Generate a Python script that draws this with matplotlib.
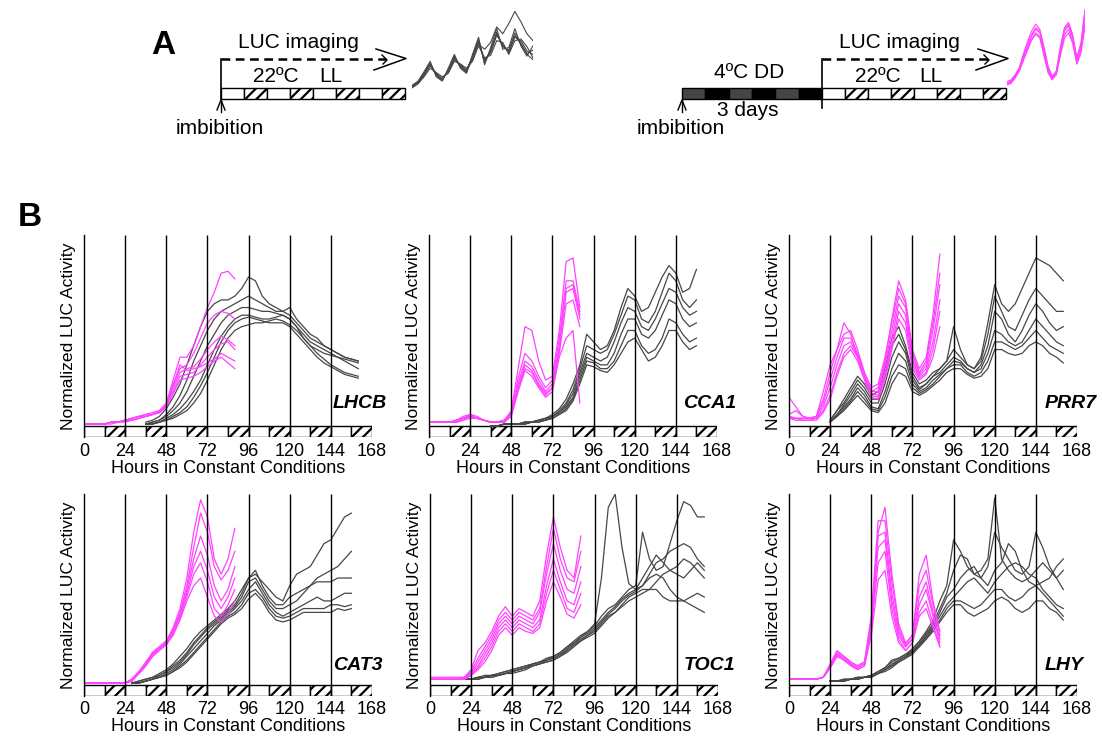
import matplotlib
matplotlib.use('Agg')
import matplotlib.pyplot as plt
from matplotlib.patches import Rectangle
from matplotlib.lines import Line2D

plt.rcParams['font.family'] = ['Liberation Sans', 'DejaVu Sans']
plt.rcParams['hatch.linewidth'] = 1.6

GRAY = '#474747'
MAGENTA = '#ff42ff'

day_ticks = [0, 24, 48, 72, 96, 120, 144, 168]
mag_hours = list(range(0, 89, 4))

# ---- panel B data (percent of axis height) ----
lhcb_gray_hours = list(range(36, 161, 4))
lhcb_gray = [
    [2, 3, 5, 9, 15, 22, 32, 42, 52, 60, 64, 66, 66, 68, 72, 78, 76, 68, 64, 62, 60, 58, 54, 50, 46, 44, 42, 40, 38, 36, 35, 34],
    [1, 2, 3, 6, 10, 16, 24, 34, 42, 50, 56, 60, 62, 64, 66, 68, 66, 64, 62, 60, 60, 62, 56, 52, 48, 46, 42, 40, 38, 36, 35, 34],
    [1, 2, 3, 5, 8, 12, 18, 26, 34, 42, 48, 54, 58, 60, 62, 62, 61, 60, 60, 59, 58, 56, 52, 48, 44, 42, 40, 38, 36, 34, 32, 30],
    [1, 1, 2, 4, 6, 9, 13, 18, 24, 32, 40, 47, 52, 56, 58, 58, 57, 56, 56, 57, 58, 56, 52, 46, 42, 38, 35, 32, 30, 28, 27, 26],
    [1, 1, 2, 3, 5, 7, 10, 15, 21, 28, 36, 44, 50, 54, 56, 57, 56, 55, 54, 54, 54, 52, 48, 44, 40, 36, 33, 31, 29, 27, 26, 25],
    [1, 1, 2, 3, 4, 6, 8, 12, 17, 24, 32, 40, 46, 50, 52, 53, 54, 54, 55, 56, 55, 53, 50, 46, 42, 40, 38, 37, 36, 35, 34, 33],
]
lhcb_mag = [
    [1, 1, 1, 1, 2, 2, 3, 4, 5, 6, 7, 8, 12, 24, 36, 36, 42, 52, 62, 70, 80, 81, 77],
    [1, 1, 1, 1, 2, 2, 3, 4, 5, 6, 6, 8, 11, 22, 30, 32, 38, 46, 54, 58, 60, 59, 56],
    [1, 1, 1, 1, 2, 2, 3, 4, 5, 5, 6, 7, 10, 20, 28, 30, 31, 35, 40, 44, 47, 45, 42],
    [1, 1, 1, 1, 2, 2, 3, 3, 4, 5, 6, 7, 10, 18, 26, 27, 28, 32, 36, 40, 43, 44, 40],
    [1, 1, 1, 1, 2, 2, 3, 3, 4, 5, 6, 7, 11, 21, 32, 29, 30, 31, 33, 35, 38, 36, 34],
    [1, 1, 1, 1, 1, 2, 2, 3, 4, 5, 6, 7, 10, 17, 24, 25, 26, 28, 31, 34, 36, 33, 30],
]

cca1_gray_hours = list(range(36, 157, 4))
cca1_gray = [
    [0, 0, 1, 1, 1, 2, 2, 3, 4, 6, 9, 14, 22, 32, 48, 44, 40, 42, 50, 62, 72, 68, 60, 62, 70, 78, 84, 80, 70, 72, 82],
    [0, 0, 1, 1, 1, 2, 2, 3, 4, 5, 8, 12, 19, 30, 42, 40, 38, 40, 48, 58, 68, 66, 56, 54, 60, 70, 80, 76, 66, 62, 66],
    [0, 0, 1, 1, 1, 2, 2, 3, 4, 5, 7, 11, 17, 28, 38, 36, 34, 36, 44, 54, 62, 60, 52, 50, 56, 64, 72, 70, 62, 58, 60],
    [0, 0, 1, 1, 1, 1, 2, 3, 3, 5, 7, 10, 15, 26, 36, 34, 32, 32, 38, 48, 56, 56, 48, 46, 50, 58, 66, 64, 56, 52, 54],
    [0, 0, 1, 1, 1, 1, 2, 2, 3, 4, 6, 9, 14, 24, 34, 33, 30, 30, 34, 42, 50, 50, 42, 38, 40, 46, 56, 54, 48, 44, 46],
    [0, 0, 1, 1, 1, 1, 2, 2, 3, 4, 6, 8, 13, 22, 32, 31, 29, 28, 32, 38, 44, 46, 40, 34, 36, 42, 50, 50, 44, 40, 42],
]
cca1_mag = [
    [2, 2, 2, 2, 3, 5, 6, 4, 3, 2, 2, 3, 8, 30, 52, 50, 34, 24, 26, 50, 86, 88, 62],
    [2, 2, 2, 2, 3, 4, 5, 4, 3, 2, 2, 3, 7, 25, 38, 34, 26, 20, 24, 46, 76, 76, 60],
    [2, 2, 2, 2, 3, 4, 5, 4, 3, 2, 2, 3, 6, 22, 34, 31, 24, 18, 22, 42, 72, 74, 58],
    [2, 2, 2, 2, 2, 4, 6, 5, 3, 2, 2, 3, 6, 20, 32, 29, 22, 17, 20, 40, 70, 72, 56],
    [2, 2, 2, 2, 2, 3, 5, 4, 3, 2, 2, 2, 6, 20, 30, 28, 21, 16, 20, 38, 64, 66, 52],
    [2, 2, 2, 2, 2, 3, 4, 4, 3, 2, 2, 2, 5, 18, 29, 26, 20, 15, 18, 36, 46, 50, 12],
]

prr7_gray_hours = list(range(24, 161, 4))
prr7_gray = [
    [3, 8, 14, 20, 26, 22, 16, 18, 30, 46, 52, 42, 28, 22, 24, 28, 30, 34, 52, 40, 32, 30, 36, 54, 74, 64, 60, 64, 72, 80, 88, 86, 84, 80, 76],
    [3, 8, 12, 18, 24, 20, 14, 14, 26, 42, 48, 40, 26, 20, 22, 26, 30, 34, 40, 36, 32, 30, 34, 48, 68, 60, 52, 50, 58, 66, 72, 68, 64, 60, 60],
    [2, 6, 11, 16, 22, 18, 12, 12, 22, 36, 44, 38, 24, 19, 22, 26, 28, 32, 36, 34, 30, 28, 32, 42, 60, 56, 48, 44, 50, 58, 64, 60, 54, 50, 52],
    [2, 6, 10, 14, 20, 16, 10, 9, 18, 30, 38, 34, 22, 18, 20, 24, 27, 30, 34, 33, 30, 28, 30, 38, 50, 48, 44, 42, 44, 50, 56, 52, 48, 44, 42],
    [2, 5, 9, 13, 18, 14, 9, 8, 15, 26, 32, 30, 20, 17, 19, 22, 26, 30, 32, 32, 28, 26, 28, 34, 44, 44, 42, 40, 42, 46, 50, 46, 42, 40, 38],
    [2, 5, 8, 12, 16, 12, 8, 7, 12, 22, 28, 26, 18, 16, 18, 21, 24, 28, 30, 30, 27, 25, 26, 30, 40, 40, 38, 37, 38, 42, 44, 42, 38, 36, 33],
]
prr7_mag = [
    [6, 8, 5, 4, 5, 14, 28, 40, 54, 48, 36, 26, 18, 20, 34, 56, 76, 66, 40, 30, 36, 58, 90],
    [5, 4, 4, 4, 5, 18, 32, 40, 48, 50, 40, 28, 20, 22, 36, 54, 72, 64, 38, 28, 34, 54, 80],
    [5, 4, 4, 4, 5, 12, 24, 36, 46, 46, 38, 28, 18, 18, 32, 50, 68, 62, 36, 27, 32, 50, 74],
    [15, 10, 5, 4, 4, 10, 20, 32, 42, 44, 37, 26, 17, 16, 28, 46, 64, 58, 34, 26, 30, 44, 66],
    [4, 4, 3, 3, 4, 8, 16, 28, 38, 42, 36, 25, 16, 15, 26, 42, 60, 54, 32, 25, 28, 40, 60],
    [4, 3, 3, 3, 3, 7, 14, 26, 36, 40, 34, 24, 15, 14, 24, 40, 56, 50, 30, 24, 27, 36, 52],
]

cat3_gray_hours = list(range(28, 157, 4))
cat3_gray = [
    [1, 2, 3, 4, 6, 8, 11, 15, 19, 24, 28, 31, 34, 37, 40, 44, 50, 56, 58, 54, 50, 46, 44, 52, 58, 60, 62, 68, 74, 76, 82, 88, 90],
    [1, 2, 3, 4, 5, 7, 10, 13, 17, 22, 26, 30, 33, 36, 39, 42, 48, 56, 60, 52, 46, 42, 42, 46, 48, 50, 52, 56, 58, 60, 62, 66, 70],
    [1, 1, 2, 3, 5, 7, 9, 12, 16, 21, 25, 29, 32, 35, 38, 41, 46, 54, 56, 50, 44, 40, 40, 42, 44, 48, 52, 54, 54, 54, 56, 56, 56],
    [1, 1, 2, 3, 4, 6, 8, 11, 15, 19, 23, 27, 31, 34, 37, 40, 44, 50, 54, 48, 42, 38, 36, 38, 40, 42, 44, 46, 44, 44, 46, 48, 48],
    [1, 1, 2, 3, 4, 5, 7, 10, 13, 17, 21, 25, 29, 33, 36, 38, 42, 48, 50, 46, 40, 36, 35, 36, 38, 40, 40, 40, 40, 42, 42, 41, 42],
    [1, 1, 2, 3, 4, 5, 7, 9, 12, 16, 20, 24, 28, 32, 35, 37, 40, 45, 48, 44, 38, 34, 33, 34, 36, 38, 38, 38, 38, 38, 40, 39, 40],
]
cat3_mag = [
    [1, 1, 1, 1, 1, 1, 1, 3, 7, 12, 17, 20, 23, 30, 40, 56, 80, 97, 88, 66, 58, 66, 82],
    [1, 1, 1, 1, 1, 1, 1, 3, 7, 11, 17, 20, 23, 29, 38, 52, 72, 90, 80, 62, 55, 60, 70],
    [1, 1, 1, 1, 1, 1, 1, 3, 6, 11, 16, 19, 22, 28, 37, 50, 66, 78, 68, 52, 44, 50, 62],
    [1, 1, 1, 1, 1, 1, 1, 3, 6, 10, 16, 19, 22, 28, 36, 48, 62, 70, 60, 46, 40, 46, 56],
    [1, 1, 1, 1, 1, 1, 1, 2, 6, 10, 15, 19, 21, 27, 35, 46, 58, 64, 54, 40, 36, 42, 50],
    [1, 1, 1, 1, 1, 1, 1, 2, 6, 10, 15, 18, 21, 26, 34, 44, 52, 56, 46, 36, 33, 37, 44],
]

toc1_gray_hours = list(range(20, 161, 4))
toc1_gray = [
    [3, 3, 4, 5, 5, 6, 7, 8, 9, 10, 11, 12, 14, 15, 17, 20, 23, 26, 28, 32, 56, 93, 100, 72, 53, 50, 52, 58, 64, 66, 70, 72, 74, 72, 66, 62],
    [3, 3, 4, 4, 5, 6, 7, 8, 9, 10, 11, 12, 13, 15, 17, 20, 22, 25, 28, 31, 36, 40, 42, 46, 50, 52, 80, 66, 60, 62, 74, 86, 96, 94, 88, 88],
    [3, 3, 4, 4, 5, 5, 6, 7, 8, 9, 11, 12, 13, 14, 16, 19, 22, 25, 27, 30, 34, 38, 41, 45, 48, 50, 56, 62, 68, 64, 60, 58, 56, 60, 64, 60],
    [3, 3, 3, 4, 5, 5, 6, 7, 8, 9, 10, 11, 13, 14, 16, 18, 21, 24, 26, 29, 33, 37, 40, 44, 47, 49, 52, 56, 58, 56, 50, 46, 44, 46, 48, 46],
    [3, 3, 3, 4, 4, 5, 6, 7, 8, 9, 10, 11, 12, 13, 15, 18, 21, 23, 26, 28, 32, 36, 38, 42, 46, 48, 50, 50, 50, 46, 44, 44, 44, 42, 40, 38],
    [3, 3, 3, 4, 4, 5, 6, 6, 7, 8, 10, 11, 12, 13, 15, 17, 20, 23, 25, 27, 31, 35, 38, 41, 44, 46, 48, 50, 54, 58, 60, 62, 66, 64, 60, 56],
]
toc1_mag = [
    [4, 4, 4, 4, 4, 4, 8, 18, 22, 28, 36, 41, 36, 40, 38, 36, 44, 68, 88, 72, 60, 56, 78],
    [3, 3, 3, 3, 3, 4, 7, 14, 20, 26, 34, 38, 34, 38, 36, 34, 40, 62, 82, 66, 56, 54, 70],
    [3, 3, 3, 3, 3, 4, 6, 12, 18, 24, 32, 36, 32, 36, 34, 32, 38, 58, 74, 60, 50, 48, 62],
    [3, 3, 3, 3, 3, 3, 6, 10, 16, 22, 30, 34, 30, 34, 32, 30, 34, 52, 66, 54, 44, 42, 54],
    [3, 3, 3, 3, 3, 3, 5, 9, 14, 20, 28, 32, 28, 32, 30, 28, 32, 48, 60, 50, 40, 38, 48],
    [3, 3, 3, 3, 3, 3, 5, 8, 12, 18, 26, 30, 26, 30, 28, 27, 30, 44, 54, 46, 37, 35, 42],
]

lhy_gray_hours = list(range(24, 161, 4))
lhy_gray = [
    [2, 2, 3, 3, 4, 4, 5, 7, 9, 12, 14, 16, 19, 23, 28, 34, 44, 52, 76, 70, 62, 58, 60, 66, 98, 66, 60, 56, 54, 56, 60, 64, 60, 56, 50],
    [2, 2, 3, 3, 4, 4, 5, 7, 9, 13, 14, 16, 18, 22, 27, 32, 40, 48, 60, 68, 66, 58, 56, 62, 80, 72, 66, 60, 58, 62, 80, 72, 62, 56, 60],
    [2, 2, 2, 3, 3, 4, 5, 6, 8, 11, 13, 15, 18, 21, 26, 31, 38, 46, 50, 56, 60, 62, 56, 52, 60, 64, 74, 70, 60, 54, 52, 54, 56, 62, 66],
    [2, 2, 2, 3, 3, 4, 5, 6, 8, 10, 13, 15, 17, 21, 25, 30, 36, 42, 46, 50, 54, 56, 52, 48, 54, 58, 62, 64, 62, 58, 56, 50, 46, 42, 40],
    [2, 2, 2, 3, 3, 4, 4, 6, 8, 10, 12, 14, 17, 20, 24, 29, 34, 40, 44, 44, 42, 40, 42, 46, 50, 50, 46, 44, 46, 50, 52, 48, 44, 40, 36],
    [2, 2, 2, 3, 3, 4, 4, 6, 7, 9, 12, 14, 16, 20, 24, 28, 33, 38, 42, 42, 38, 36, 38, 40, 44, 46, 44, 40, 38, 40, 44, 44, 40, 38, 34],
]
lhy_mag = [
    [3, 3, 3, 3, 3, 4, 11, 18, 15, 12, 10, 12, 30, 80, 93, 58, 32, 22, 26, 58, 68, 44, 28],
    [3, 3, 3, 3, 3, 4, 10, 17, 15, 12, 10, 12, 36, 86, 86, 54, 30, 21, 26, 52, 60, 42, 26],
    [3, 3, 3, 3, 3, 4, 10, 16, 14, 11, 9, 11, 34, 78, 80, 48, 28, 20, 24, 46, 54, 38, 24],
    [3, 3, 3, 3, 3, 4, 9, 16, 14, 11, 9, 11, 30, 72, 76, 44, 26, 20, 24, 42, 50, 36, 22],
    [3, 3, 3, 3, 3, 4, 9, 15, 13, 11, 8, 10, 28, 64, 70, 40, 24, 18, 22, 38, 44, 32, 20],
    [3, 3, 3, 3, 3, 4, 9, 15, 13, 10, 8, 10, 26, 55, 60, 36, 22, 18, 22, 36, 40, 30, 20],
]

# ---- panel A inset traces ----
inset_gray_hours = list(range(0, 121, 6))
inset_gray = [
    [9, 14, 24, 36, 22, 16, 28, 43, 32, 26, 43, 63, 36, 51, 72, 55, 51, 71, 59, 47, 51],
    [8, 12, 22, 33, 24, 18, 26, 40, 34, 28, 40, 60, 40, 48, 68, 58, 48, 66, 62, 50, 46],
    [10, 15, 26, 38, 20, 15, 30, 46, 30, 24, 46, 66, 34, 54, 76, 52, 54, 76, 56, 44, 56],
    [7, 12, 20, 30, 25, 20, 24, 38, 35, 30, 38, 56, 42, 45, 62, 60, 46, 62, 64, 55, 42],
    [9, 13, 22, 34, 22, 17, 27, 42, 33, 27, 44, 58, 52, 60, 78, 70, 82, 96, 84, 70, 62],
    [8, 13, 23, 35, 23, 16, 28, 44, 31, 25, 42, 62, 38, 50, 70, 56, 50, 68, 58, 46, 40],
]
inset_mag_hours = list(range(0, 77, 4))
inset_mag = [
    [10, 12, 18, 26, 40, 52, 64, 72, 68, 48, 26, 16, 22, 48, 70, 76, 62, 36, 52, 88],
    [8, 10, 16, 24, 36, 48, 60, 68, 64, 44, 24, 15, 20, 44, 66, 72, 58, 34, 48, 80],
    [12, 14, 20, 28, 44, 58, 70, 78, 72, 52, 30, 18, 24, 52, 74, 80, 66, 40, 56, 95],
    [9, 11, 17, 25, 38, 50, 60, 66, 62, 42, 22, 14, 20, 42, 62, 68, 56, 32, 44, 74],
    [10, 13, 19, 27, 42, 55, 66, 74, 70, 50, 28, 17, 23, 50, 72, 78, 64, 38, 54, 92],
]

W, H = 1102, 742
fig = plt.figure(figsize=(W / 100, H / 100), dpi=100)

BAR = 5.8  # height of the light/dark bar in data units


def px_axes(left, top, width, height):
    return fig.add_axes([left / W, 1 - (top + height) / H, width / W, height / H])


def draw_panel(ax, name, gray_hours, grays, mags, name_x, name_y, tick_pad, xlab_pad):
    for tr in grays:
        ax.plot(gray_hours, tr, color=GRAY, lw=0.9)
    for tr in mags:
        ax.plot(mag_hours, tr, color=MAGENTA, lw=0.9)
    ax.vlines(day_ticks[1:-1], -BAR, 100, color='black', lw=1.0)
    for i in range(14):
        ax.add_patch(Rectangle((12 * i, -BAR), 12, BAR, facecolor='white',
                               edgecolor='black', lw=1.0,
                               hatch='///' if i % 2 else None))
    ax.set_xlim(0, 168)
    ax.set_ylim(-BAR, 100)
    ax.set_xticks(day_ticks)
    ax.set_yticks([])
    ax.tick_params(axis='x', length=0, labelsize=13, pad=tick_pad)
    for s in ['top', 'right', 'bottom']:
        ax.spines[s].set_visible(False)
    ax.spines['left'].set_linewidth(1.0)
    ax.set_xlabel('Hours in Constant Conditions', fontsize=13, labelpad=xlab_pad)
    ax.set_ylabel('Normalized LUC Activity', fontsize=12.6, labelpad=6)
    ax.text(name_x, name_y, name, fontsize=14, fontweight='bold', style='italic',
            ha='left', va='center', clip_on=False)


panels = [
    ('LHCB', lhcb_gray_hours, lhcb_gray, lhcb_mag, 84, 235, 145),
    ('CCA1', cca1_gray_hours, cca1_gray, cca1_mag, 429, 235, 148),
    ('PRR7', prr7_gray_hours, prr7_gray, prr7_mag, 789, 235, 149),
    ('CAT3', cat3_gray_hours, cat3_gray, cat3_mag, 84, 494, 145),
    ('TOC1', toc1_gray_hours, toc1_gray, toc1_mag, 430, 494, 148),
    ('LHY', lhy_gray_hours, lhy_gray, lhy_mag, 789, 494, 149),
]
for name, gh, gs, ms, left, top, nx in panels:
    ax = px_axes(left, top, 288, 202)
    if top < 300:
        draw_panel(ax, name, gh, gs, ms, nx, 12, 4, 0.5)
    else:
        draw_panel(ax, name, gh, gs, ms, nx, 10, 3.5, 0)

# ---- panel A insets ----
ai = px_axes(412, 8, 121, 86)
for tr in inset_gray:
    ai.plot(inset_gray_hours, tr, color=GRAY, lw=0.8)
ai.set_xlim(0, 120)
ai.set_ylim(0, 100)
ai.axis('off')

am = px_axes(1007, 5, 78, 87)
for tr in inset_mag:
    am.plot(inset_mag_hours, tr, color=MAGENTA, lw=0.8)
am.set_xlim(0, 76)
am.set_ylim(0, 100)
am.axis('off')

# ---- panel A schematic, drawn in pixel space ----
d = fig.add_axes([0, 0, 1, 1])
d.set_xlim(0, W)
d.set_ylim(H, 0)
d.axis('off')


def light_bar(x0, n):
    for i in range(n):
        d.add_patch(Rectangle((x0 + 23 * i, 88), 23, 11, facecolor='white',
                              edgecolor='black', lw=1.0,
                              hatch='///' if i % 2 else None))


def imaging_arrow(x0, x1):
    d.add_line(Line2D([x0, x1], [59, 59], color='black', lw=1.8,
                      linestyle=(0, (3.5, 2.2))))
    d.add_line(Line2D([x1 - 10, x1 + 20, x1 - 12], [49, 58.5, 70],
                      color='black', lw=1.1))
    d.add_line(Line2D([x1 - 4, x1 + 1, x1 - 3], [55, 60, 64],
                      color='black', lw=1.0))


def up_arrow(x):
    d.add_line(Line2D([x, x], [100, 112], color='black', lw=1.0))
    d.add_line(Line2D([x - 4, x, x + 4], [110, 100, 110], color='black', lw=1.0))


tkw = dict(fontsize=15, ha='center', va='center')

# left scheme
d.add_line(Line2D([221, 221], [59, 99], color='black', lw=1.2))
imaging_arrow(221, 386)
light_bar(221, 8)
up_arrow(221)
d.text(298, 42, 'LUC imaging', **tkw)
d.text(276, 76, '22ºC', **tkw)
d.text(331, 76, 'LL', **tkw)
d.text(220, 128, 'imbibition', **tkw)

# right scheme
for i in range(6):
    d.add_patch(Rectangle((682 + 23.3 * i, 88), 23.3, 11,
                          facecolor='#454545' if i % 2 == 0 else 'black',
                          edgecolor='black', lw=1.0))
d.add_line(Line2D([822, 822], [59, 108], color='black', lw=1.2))
imaging_arrow(822, 988)
light_bar(822, 8)
up_arrow(682)
d.text(899, 42, 'LUC imaging', **tkw)
d.text(878, 76, '22ºC', **tkw)
d.text(931, 76, 'LL', **tkw)
d.text(749, 72, '4ºC DD', **tkw)
d.text(748, 111, '3 days', **tkw)
d.text(681, 128, 'imbibition', **tkw)

d.text(163, 45, 'A', fontsize=24, fontweight='bold', ha='center', va='center')
d.text(30, 218, 'B', fontsize=24, fontweight='bold', ha='center', va='center')

fig.savefig('out.png', dpi=100)
